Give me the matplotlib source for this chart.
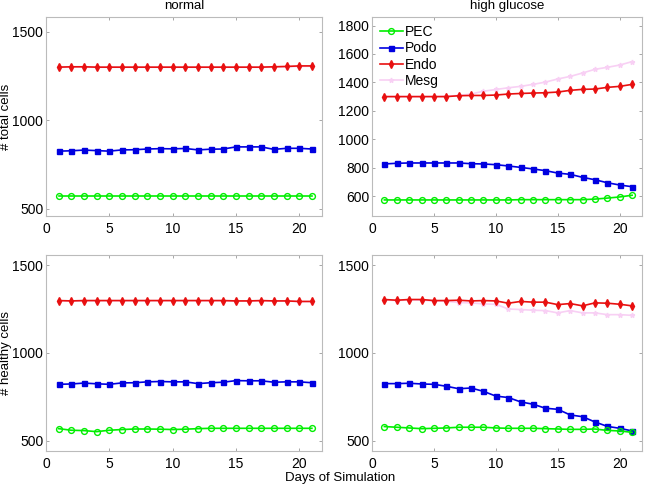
import numpy as np
import matplotlib.pyplot as plt

plt.rcParams['font.family'] = ['Liberation Sans', 'DejaVu Sans']

days = np.arange(1, 22)

# normal, total cells
tot_n_pec = [575] * 21
tot_n_podo = [826, 828, 832, 829, 826, 833, 834, 838, 840, 839, 841, 833, 837, 838, 850, 850, 850, 836, 842, 842, 838]
tot_n_endo = [1300, 1302, 1302, 1300, 1300, 1300, 1300, 1300, 1300, 1300, 1300, 1300, 1300, 1300, 1300, 1300, 1300, 1302, 1304, 1307, 1307]
tot_n_mesg = [1299, 1300, 1300, 1299, 1299, 1299, 1299, 1299, 1299, 1299, 1299, 1299, 1299, 1299, 1299, 1299, 1299, 1300, 1302, 1304, 1305]

# high glucose, total cells
tot_h_pec = [573, 573, 573, 573, 573, 573, 573, 573, 573, 573, 573, 575, 575, 575, 575, 575, 575, 579, 586, 594, 606]
tot_h_podo = [826, 831, 833, 833, 833, 833, 833, 828, 826, 821, 812, 802, 791, 779, 762, 753, 732, 715, 694, 678, 666]
tot_h_endo = [1300, 1300, 1300, 1300, 1300, 1300, 1306, 1308, 1308, 1311, 1318, 1322, 1325, 1327, 1332, 1344, 1351, 1353, 1365, 1372, 1386]
tot_h_mesg = [1300, 1300, 1300, 1300, 1300, 1302, 1308, 1318, 1338, 1350, 1362, 1372, 1386, 1402, 1424, 1442, 1466, 1492, 1506, 1522, 1546]

# normal, healthy cells
hea_n_pec = [570, 561, 559, 553, 561, 565, 568, 568, 567, 565, 567, 570, 572, 572, 572, 572, 572, 572, 572, 572, 572]
hea_n_podo = [822, 824, 829, 825, 822, 830, 831, 836, 838, 836, 836, 826, 831, 834, 843, 842, 842, 834, 836, 836, 831]
hea_n_endo = [1298, 1296, 1298, 1298, 1298, 1298, 1298, 1298, 1298, 1298, 1298, 1298, 1298, 1298, 1296, 1296, 1298, 1296, 1296, 1293, 1293]
hea_n_mesg = [1297, 1295, 1297, 1297, 1297, 1297, 1297, 1297, 1297, 1297, 1297, 1297, 1297, 1297, 1295, 1295, 1297, 1295, 1295, 1292, 1292]

# high glucose, healthy cells
hea_h_pec = [582, 578, 574, 570, 572, 574, 578, 578, 578, 574, 572, 572, 572, 570, 568, 566, 566, 568, 560, 557, 549]
hea_h_podo = [826, 826, 828, 824, 822, 811, 797, 801, 782, 755, 747, 722, 709, 686, 680, 648, 638, 608, 583, 572, 557]
hea_h_endo = [1304, 1300, 1304, 1304, 1298, 1298, 1300, 1296, 1298, 1296, 1283, 1293, 1289, 1289, 1275, 1281, 1268, 1285, 1283, 1277, 1268]
hea_h_mesg = [1302, 1298, 1302, 1300, 1296, 1294, 1287, 1285, 1279, 1277, 1250, 1247, 1243, 1241, 1228, 1241, 1228, 1228, 1218, 1218, 1214]

names = ['PEC', 'Podo', 'Endo', 'Mesg']
panels = [
    [tot_n_pec, tot_n_podo, tot_n_endo, tot_n_mesg],
    [tot_h_pec, tot_h_podo, tot_h_endo, tot_h_mesg],
    [hea_n_pec, hea_n_podo, hea_n_endo, hea_n_mesg],
    [hea_h_pec, hea_h_podo, hea_h_endo, hea_h_mesg],
]

styles = [
    dict(color='#00ee00', marker='o', mfc='none', ms=4.2, mew=1.0),
    dict(color='#0000e0', marker='s', ms=3.6),
    dict(color='#e81010', marker='d', ms=4.2),
    dict(color='#f8d0f4', marker='*', ms=3.5),
]

fig = plt.figure(figsize=(6.5, 4.88), dpi=100)
W, H = 650, 488
boxes = [(46, 17, 322, 216), (372, 17, 642, 216), (46, 255, 322, 451), (372, 255, 642, 451)]
ylims = [(460, 1583), (460, 1860), (443, 1557), (443, 1557)]
yticks = [[500, 1000, 1500], [600, 800, 1000, 1200, 1400, 1600, 1800], [500, 1000, 1500], [500, 1000, 1500]]

axes = []
for i, (l, t, r, b) in enumerate(boxes):
    ax = fig.add_axes([l / W, 1 - b / H, (r - l) / W, (b - t) / H])
    for k in [3, 2, 1, 0]:
        ax.plot(days, panels[i][k], lw=1.2, label=names[k], **styles[k])
    ax.set_xlim(0, 21.8)
    ax.set_ylim(*ylims[i])
    ax.set_xticks([0, 5, 10, 15, 20])
    ax.set_yticks(yticks[i])
    ax.tick_params(direction='in', length=2, width=0.6, color='#999999',
                   labelsize=10, top=True, right=True)
    ax.tick_params(axis='y', pad=2)
    ax.tick_params(axis='x', pad=4)
    for s in ax.spines.values():
        s.set_color('#bbbbbb')
        s.set_linewidth(0.8)
    axes.append(ax)

axes[0].set_title('normal', fontsize=9.5, pad=6)
axes[1].set_title('high glucose', fontsize=9.5, pad=6)
axes[0].set_ylabel('# total cells', fontsize=9.5)
axes[2].set_ylabel('# healthy cells', fontsize=9.5)
for ax in (axes[0], axes[2]):
    ax.yaxis.set_label_coords(-34 / 276, 0.5)

h, lab = axes[1].get_legend_handles_labels()
axes[1].legend(h[::-1], lab[::-1], loc='upper left', frameon=False, fontsize=10,
               handlelength=1.6, handletextpad=0.2, labelspacing=0.15,
               borderaxespad=0.2, bbox_to_anchor=(0.0, 1.0))

fig.text(340 / W, 1 - 478 / H, 'Days of Simulation', ha='center', va='center', fontsize=9.5)

fig.savefig('out.png', dpi=100)
